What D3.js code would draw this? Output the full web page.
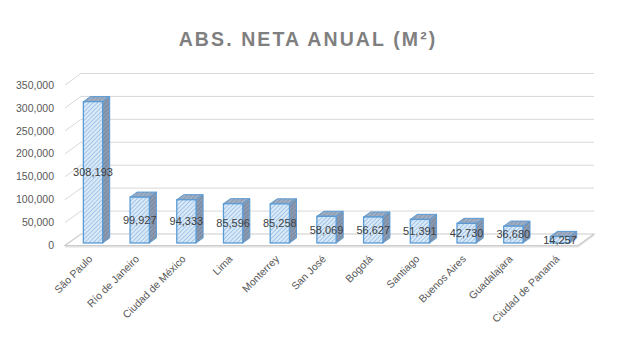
<!DOCTYPE html>
<html>
<head>
<meta charset="utf-8">
<script src="https://cdn.jsdelivr.net/npm/d3@7"></script>
<style>
  html, body { margin: 0; padding: 0; background: #fff; }
  svg { display: block; }
</style>
</head>
<body>
<div id="chart"></div>
<script>
// Net annual absorption by city (m²)
const cities = ["São Paulo", "Río de Janeiro", "Ciudad de México", "Lima", "Monterrey",
  "San José", "Bogotá", "Santiago", "Buenos Aires", "Guadalajara", "Ciudad de Panamá"];
const absorption = [308193, 99927, 94333, 85596, 85258, 58069, 56627, 51391, 42730, 36680, 14257];
const yTicks = [0, 50000, 100000, 150000, 200000, 250000, 300000, 350000];
const title = "ABS. NETA ANUAL (M²)";

const W = 621, H = 350;
const svg = d3.select("#chart").append("svg").attr("width", W).attr("height", H);

// 3D projection: depth vector of the plot box
const depth = { x: 16, y: -11.5 };
const front = { x0: 65, x1: 578 };
const y = d3.scaleLinear().domain([0, 350000]).range([245.5, 85]);
const x = d3.scaleBand().domain(cities).range([66.3, 579.7]).paddingInner(0.587).paddingOuter(0.29);

// bar placement inside the depth
const barFront = 0.22, barDepth = 0.44;
const bx = depth.x * barFront, by = depth.y * barFront;
const dx = depth.x * barDepth, dy = depth.y * barDepth;

// hatch patterns for the column faces
const defs = svg.append("defs");
function hatch(id, bg, fg) {
  const p = defs.append("pattern").attr("id", id).attr("patternUnits", "userSpaceOnUse")
    .attr("width", 3).attr("height", 3).attr("patternTransform", "rotate(45)");
  p.append("rect").attr("width", 3).attr("height", 3).attr("fill", bg);
  p.append("line").attr("x1", 0).attr("y1", 0).attr("x2", 0).attr("y2", 3)
    .attr("stroke", fg).attr("stroke-width", 1.3);
}
hatch("hFront", "#dceaf8", "#7fb1e2");
hatch("hSide", "#8d9bb0", "#6b7e99");
hatch("hTop", "#a0afc3", "#7d8fa8");

// title
svg.append("text").attr("x", 308).attr("y", 46).attr("text-anchor", "middle")
  .attr("font-family", "Liberation Sans, Arial, sans-serif").attr("font-weight", "bold")
  .attr("font-size", 19.5).attr("letter-spacing", 2.1).attr("fill", "#7f7f7f").text(title);

// floor slab
const fy = y(0);
svg.append("path")
  .attr("d", `M${front.x0},${fy} L${front.x1},${fy} L${front.x1 + depth.x},${fy + depth.y} L${front.x1 + depth.x},${fy + depth.y + 2} L${front.x1},${fy + 2} L${front.x0},${fy + 2} Z`)
  .attr("fill", "#e0e0e0");
svg.append("path")
  .attr("d", `M${front.x0},${fy} L${front.x1},${fy} L${front.x1 + depth.x},${fy + depth.y} L${front.x0 + depth.x},${fy + depth.y} Z`)
  .attr("fill", "#fff").attr("stroke", "#cccccc").attr("stroke-width", 1.2);

// gridlines: side wall diagonals and back wall horizontals
const grid = svg.append("g").attr("stroke", "#d9d9d9").attr("stroke-width", 1).attr("fill", "none");
yTicks.filter(t => t > 0).forEach(t => {
  const yy = y(t);
  grid.append("path").attr("d",
    `M${front.x0},${yy} L${front.x0 + depth.x},${yy + depth.y} L${front.x1 + depth.x},${yy + depth.y}`);
});

// y axis labels
svg.append("g").selectAll("text").data(yTicks).join("text")
  .attr("x", 54).attr("y", d => y(d)).attr("dy", "0.35em").attr("text-anchor", "end")
  .attr("font-family", "Liberation Sans, Arial, sans-serif").attr("font-size", 10.5)
  .attr("fill", "#595959").text(d => d3.format(",")(d));

// columns
const bars = svg.append("g").selectAll("g").data(cities).join("g");
bars.each(function(c, i) {
  const g = d3.select(this);
  const v = absorption[i];
  const x0 = x(c) + bx, x1 = x(c) + x.bandwidth() + bx;
  const yb = y(0) + by, yt = y(v) + by;
  const stroke = "#5b9bd5";
  g.append("path").attr("d", `M${x1},${yt} L${x1 + dx},${yt + dy} L${x1 + dx},${yb + dy} L${x1},${yb} Z`)
    .attr("fill", "url(#hSide)").attr("stroke", stroke).attr("stroke-width", 1).attr("stroke-linejoin", "round");
  g.append("path").attr("d", `M${x0},${yt} L${x1},${yt} L${x1 + dx},${yt + dy} L${x0 + dx},${yt + dy} Z`)
    .attr("fill", "url(#hTop)").attr("stroke", stroke).attr("stroke-width", 1).attr("stroke-linejoin", "round");
  g.append("rect").attr("x", x0).attr("y", yt).attr("width", x1 - x0).attr("height", yb - yt)
    .attr("fill", "url(#hFront)").attr("stroke", stroke).attr("stroke-width", 1.3);
  g.append("text").attr("x", (x0 + x1) / 2).attr("y", (yt + yb) / 2).attr("dy", "0.35em")
    .attr("text-anchor", "middle").attr("font-family", "Liberation Sans, Arial, sans-serif")
    .attr("font-size", 11).attr("fill", "#404040").text(d3.format(",")(v));
});

// category labels, rotated
svg.append("g").selectAll("text").data(cities).join("text")
  .attr("transform", d => `translate(${x(d) + x.bandwidth() / 2 + 1},${257}) rotate(-45)`)
  .attr("text-anchor", "end").attr("dy", "0.35em")
  .attr("font-family", "Liberation Sans, Arial, sans-serif").attr("font-size", 10.5)
  .attr("fill", "#595959").text(d => d);
</script>
</body>
</html>
